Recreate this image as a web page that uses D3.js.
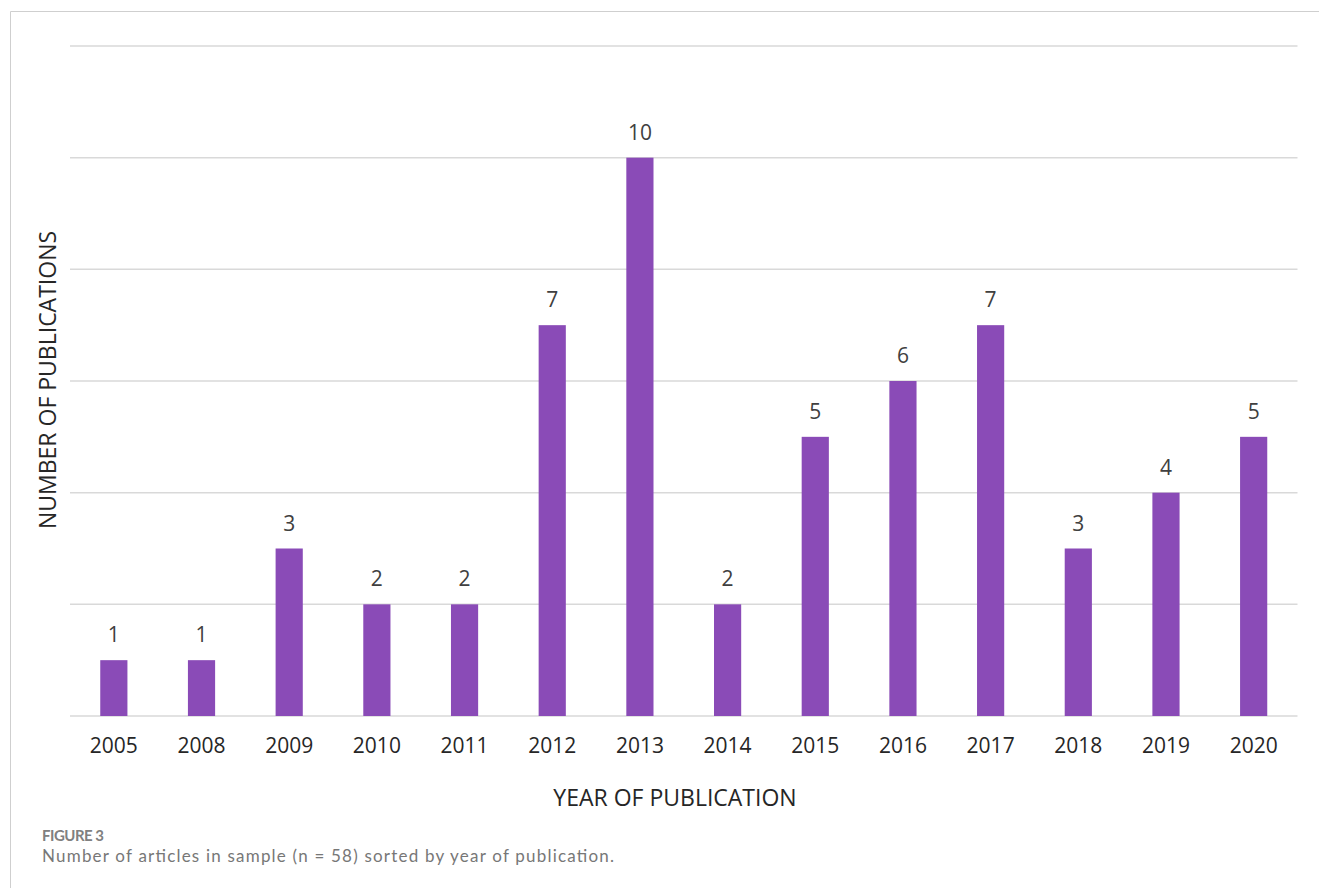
<!DOCTYPE html>
<html>
<head>
<meta charset="utf-8">
<script src="https://cdn.jsdelivr.net/npm/d3@7"></script>
<style>
  html, body { margin: 0; padding: 0; background: #fff; }
  svg { display: block; }
</style>
</head>
<body>
<svg id="chart" width="1319" height="888"></svg>
<script>
const years = ["2005", "2008", "2009", "2010", "2011", "2012", "2013", "2014", "2015", "2016", "2017", "2018", "2019", "2020"];
const counts = [1, 1, 3, 2, 2, 7, 10, 2, 5, 6, 7, 3, 4, 5];
const yTicks = [0, 2, 4, 6, 8, 10, 12];
const xTitle = "YEAR OF PUBLICATION";
const yTitle = "NUMBER OF PUBLICATIONS";
const captionLabel = "FIGURE 3";
const captionText = "Number of articles in sample (n = 58) sorted by year of publication.";

(function () {
const svg = d3.select("#chart");
const font = "'Open Sans', sans-serif";

// outer frame
svg.append("path")
  .attr("d", "M10.5,900 V11.5 H1330")
  .attr("fill", "none").attr("stroke", "#cfcfcf").attr("stroke-width", 1);

const mLeft = 70, mRight = 1297.5, mTop = 46, mBottom = 716;

const x = d3.scaleBand().domain(years).range([mLeft, mRight]).paddingInner(0.69).paddingOuter(0.345);
const y = d3.scaleLinear().domain([0, 12]).range([mBottom, mTop]);

// gridlines
svg.append("g").selectAll("line").data(yTicks).join("line")
  .attr("x1", mLeft).attr("x2", mRight)
  .attr("y1", d => y(d)).attr("y2", d => y(d))
  .attr("stroke", "#d9d9d9").attr("stroke-width", 1.5);

// bars
svg.append("g").selectAll("rect").data(years).join("rect")
  .attr("x", d => x(d))
  .attr("width", x.bandwidth())
  .attr("y", (d, i) => y(counts[i]))
  .attr("height", (d, i) => y(0) - y(counts[i]))
  .attr("fill", "#8a4bb7");

// value labels
svg.append("g").selectAll("text").data(years).join("text")
  .attr("x", d => x(d) + x.bandwidth() / 2)
  .attr("y", (d, i) => y(counts[i]) - 18)
  .attr("text-anchor", "middle")
  .attr("font-family", font).attr("font-size", 21)
  .attr("fill", "#404040")
  .text((d, i) => counts[i]);

// x axis labels
const xAxis = d3.axisBottom(x).tickSize(0).tickPadding(0);
const gx = svg.append("g").attr("transform", `translate(0,${mBottom})`).call(xAxis);
gx.select(".domain").remove();
gx.selectAll("text")
  .attr("y", 37).attr("dy", 0)
  .attr("font-family", font).attr("font-size", 21)
  .attr("fill", "#262626");

// axis titles
svg.append("text")
  .attr("x", 675).attr("y", 806)
  .attr("text-anchor", "middle")
  .attr("font-family", font).attr("font-size", 23)
  .attr("fill", "#262626")
  .text(xTitle);

svg.append("text")
  .attr("transform", `translate(56,380) rotate(-90)`)
  .attr("text-anchor", "middle")
  .attr("font-family", font).attr("font-size", 23)
  .attr("fill", "#262626")
  .text(yTitle);

// caption
svg.append("text")
  .attr("x", 42).attr("y", 841)
  .attr("font-family", "Lato, sans-serif").attr("font-size", 15).attr("font-weight", 700)
  .attr("fill", "#808080")
  .attr("textLength", 62).attr("lengthAdjust", "spacing")
  .text(captionLabel);

svg.append("text")
  .attr("x", 42).attr("y", 861.5)
  .attr("font-family", "Lato, sans-serif").attr("font-size", 17)
  .attr("fill", "#777777")
  .attr("textLength", 572).attr("lengthAdjust", "spacing")
  .text(captionText);
})();
</script>
</body>
</html>
